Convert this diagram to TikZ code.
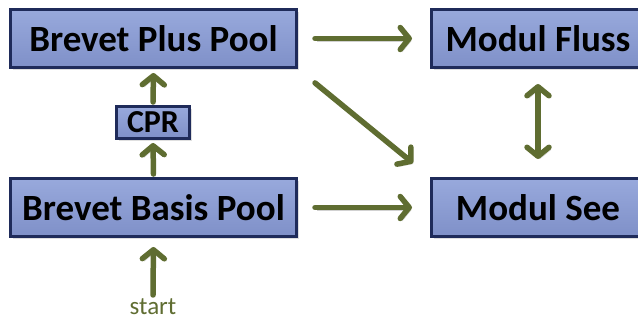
\documentclass[tikz,border=0pt]{standalone}
\usepackage{fontspec}
\setmainfont{Carlito}
\usetikzlibrary{arrows.meta,shadows}
\definecolor{boxline}{HTML}{1F2B5A}
\definecolor{boxtop}{HTML}{98A9DC}
\definecolor{boxbot}{HTML}{7F90C8}
\definecolor{arrowgreen}{HTML}{5F6D31}
\begin{document}
\begin{tikzpicture}[x=1pt,y=-1pt,
    flow/.style={draw=arrowgreen,line width=5.5pt,line cap=round,
      arrows={-Straight Barb[length=9pt,width=22pt,round]},
      preaction={draw=black!18,transform canvas={shift={(2pt,-2.5pt)}}}},
    flowboth/.style={flow,arrows={Straight Barb[length=9pt,width=22pt,round]-Straight Barb[length=9pt,width=22pt,round]}}]
      \useasboundingbox (0,0) rectangle (638,322);
      \begin{scope}[every node/.style={rectangle,draw=boxline,line width=3pt,top color=boxtop,bottom color=boxbot,
          drop shadow={shadow xshift=2pt,shadow yshift=-2pt,opacity=0.25},font=\fontsize{37}{40}\selectfont\bfseries,
          inner sep=0pt,minimum height=58pt}]
        \node[minimum width=286pt] (plus) at (153.5, 38.5) {Brevet Plus Pool};
        \node[minimum width=73pt,minimum height=32pt,font=\fontsize{32}{34}\selectfont\bfseries] (cpr) at (153, 122.5) {CPR};
        \node[minimum width=286pt] (basis) at (153.5, 207.5) {Brevet Basis Pool};
        \node[minimum width=213pt] (fluss) at (538, 38.5) {Modul Fluss};
        \node[minimum width=213pt] (see) at (538, 207.5) {Modul See};
      \end{scope}
      \node[text=arrowgreen,font=\fontsize{25}{27}\selectfont,inner sep=0pt,anchor=base] (start) at (153, 314) {start};
      \draw[flow,shorten <=17pt,shorten >=18pt] (plus.east) -- (fluss.west);
      \draw[flow,shorten <=22pt,shorten >=22pt] (plus.south east) -- (see.north west);
      \draw[flow,shorten <=17pt,shorten >=18pt] (basis.east) -- (see.west);
      \draw[flowboth,shorten <=15pt,shorten >=18pt] (fluss.south) -- (see.north);
      \draw[flow,shorten <=3pt,shorten >=4pt] (cpr.north) -- (plus.south);
      \draw[flow,shorten <=3pt,shorten >=3pt] (basis.north) -- (cpr.south);
      \draw[flow,shorten <=3pt,shorten >=9pt] (start.north) -- (basis.south);
\end{tikzpicture}
\end{document}
